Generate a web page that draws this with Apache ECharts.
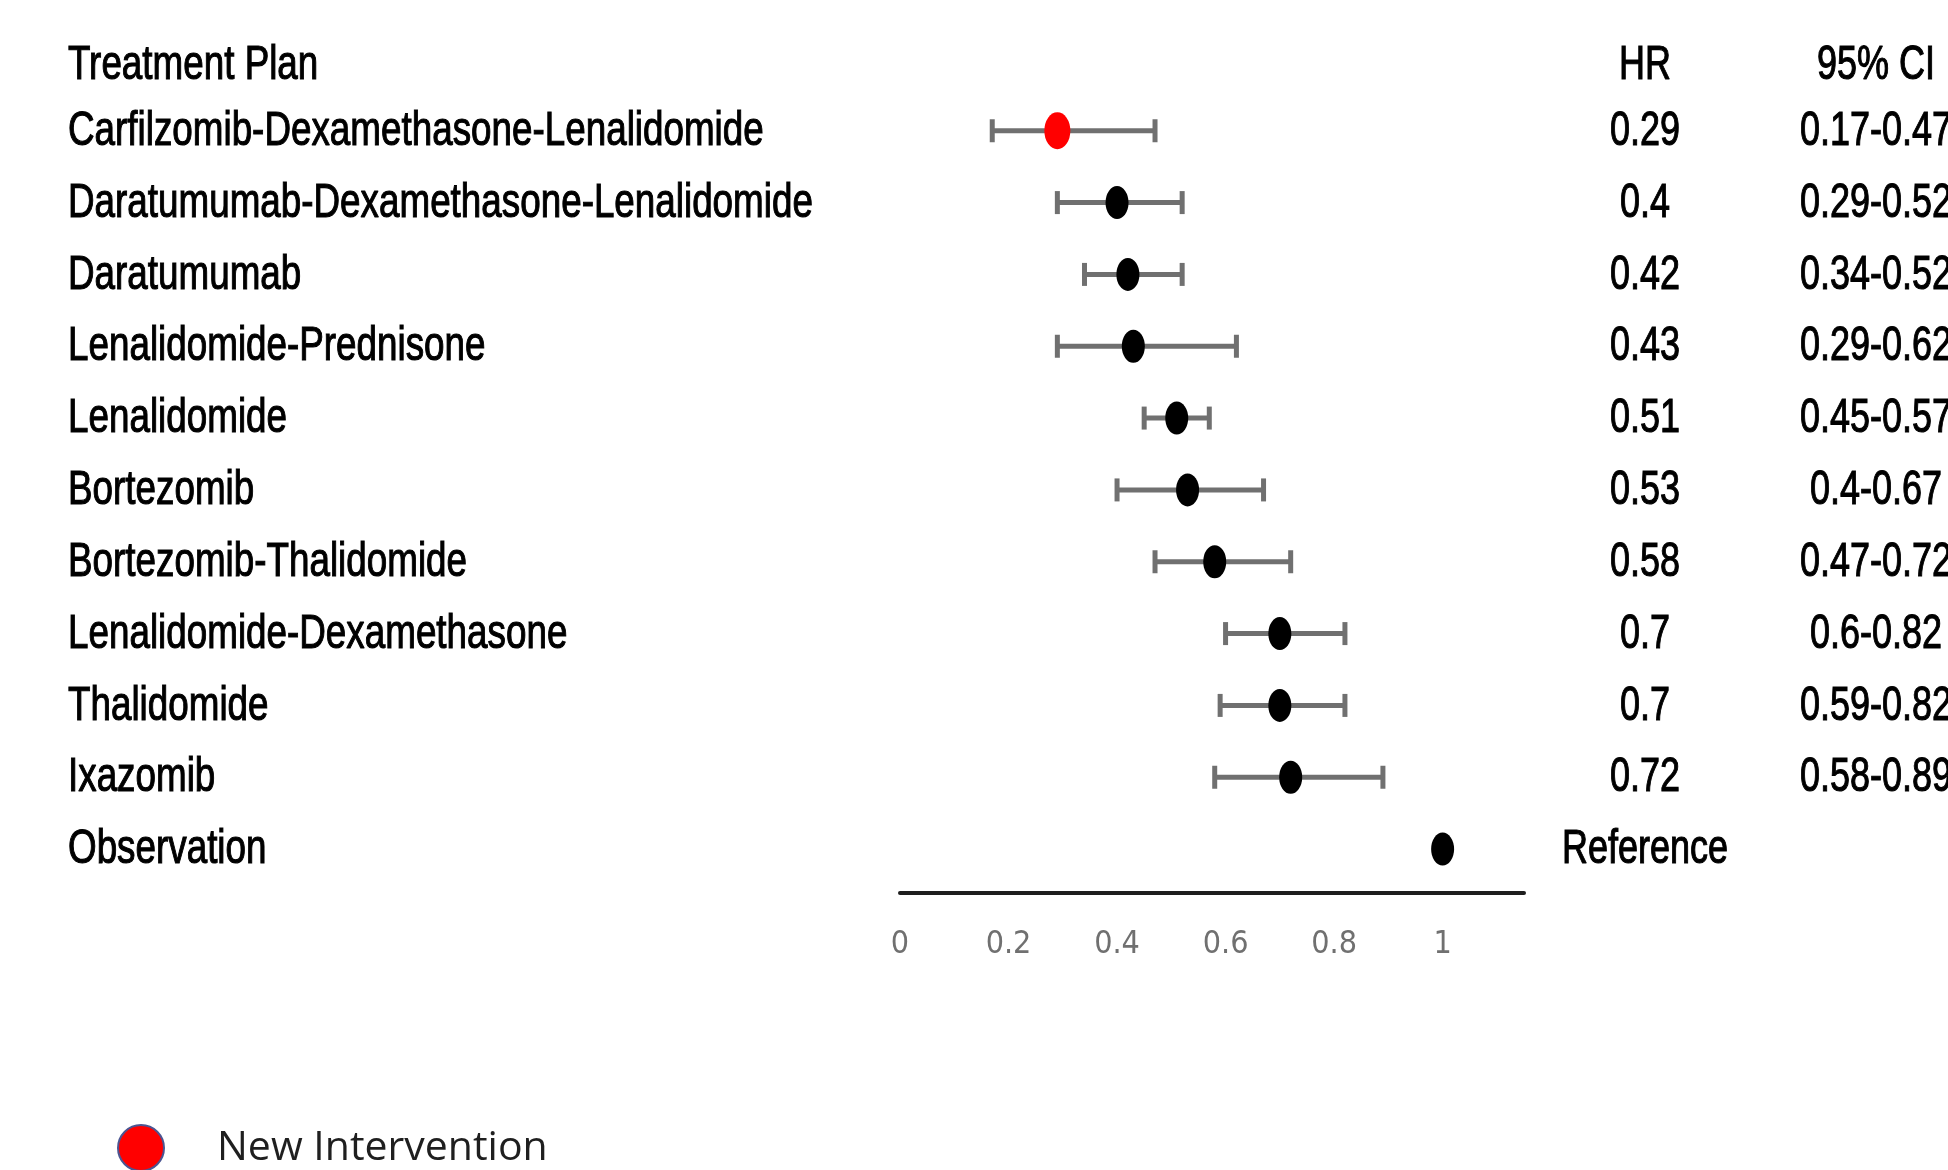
<!DOCTYPE html>
<html><head><meta charset="utf-8">
<script src="https://cdn.jsdelivr.net/npm/echarts@6/dist/echarts.min.js"></script>
<style>html,body{margin:0;padding:0;background:#fff}#c{width:1948px;height:1170px}</style>
</head><body><div id="c"></div>
<script>
// ---- data ----
const headers = ['Treatment Plan', 'HR', '95% CI'];
const treatments = [
  'Carfilzomib-Dexamethasone-Lenalidomide',
  'Daratumumab-Dexamethasone-Lenalidomide',
  'Daratumumab',
  'Lenalidomide-Prednisone',
  'Lenalidomide',
  'Bortezomib',
  'Bortezomib-Thalidomide',
  'Lenalidomide-Dexamethasone',
  'Thalidomide',
  'Ixazomib',
  'Observation'
];
const hr = [0.29, 0.4, 0.42, 0.43, 0.51, 0.53, 0.58, 0.7, 0.7, 0.72, 1];
const ciLow = [0.17, 0.29, 0.34, 0.29, 0.45, 0.4, 0.47, 0.6, 0.59, 0.58, null];
const ciHigh = [0.47, 0.52, 0.52, 0.62, 0.57, 0.67, 0.72, 0.82, 0.82, 0.89, null];
const referenceRow = 'Observation';
const newIntervention = ['Carfilzomib-Dexamethasone-Lenalidomide'];
const xTicks = { min: 0, max: 1.15, interval: 0.2 };

// ---- derived ----
const hrLabels = treatments.map((t, i) => t === referenceRow ? 'Reference' : String(hr[i]));
const ciLabels = treatments.map((t, i) => ciLow[i] == null ? '' : ciLow[i] + '-' + ciHigh[i]);
const rows = [headers[0]].concat(treatments);
const tableData = rows.map((r, i) => [0, r, i]);

const ciData = [];
treatments.forEach((t, i) => { if (ciLow[i] != null) ciData.push([ciLow[i], ciHigh[i], t]); });
const newData = [], otherData = [];
treatments.forEach((t, i) => {
  (newIntervention.includes(t) ? newData : otherData).push([hr[i], t]);
});

const ELLIPSE = 'path://M50 0A50 50 0 1 1 50 100A50 50 0 1 1 50 0Z';

const chart = echarts.init(document.getElementById('c'), null, { renderer: 'canvas' });
chart.setOption({
  animation: false,
  backgroundColor: '#fff',
  grid: { left: 900, right: 424, top: 23, height: 862, containLabel: false, outerBoundsMode: 'none' },
  xAxis: {
    type: 'value', min: xTicks.min, max: xTicks.max, interval: xTicks.interval,
    offset: 8,
    axisLine: { show: true, lineStyle: { color: '#1e1e1e', width: 4 } },
    axisTick: { show: false },
    splitLine: { show: false },
    axisLabel: {
      showMaxLabel: false, margin: 36,
      fontFamily: "'DejaVu Sans Condensed', sans-serif", fontSize: 32, color: '#707070', lineHeight: 32
    }
  },
  yAxis: {
    type: 'category', data: rows, inverse: true,
    axisLine: { show: false }, axisTick: { show: false }, splitLine: { show: false },
    axisLabel: { show: false }
  },
  legend: {
    left: 117, top: 1124, padding: 0, selectedMode: false,
    itemWidth: 46, itemHeight: 46,
    data: [{ name: 'New Intervention', icon: 'circle' }],
    itemStyle: { borderColor: '#4b5592', borderWidth: 2 },
    textStyle: { fontFamily: "'Open Sans', sans-serif", fontSize: 41, color: '#1f1f1f', padding: [0, 0, 0, 48] }
  },
  series: [
    {
      name: 'table', type: 'custom', clip: false, silent: true, z: 1,
      encode: { x: 0, y: 1 },
      data: tableData,
      renderItem: function (params, api) {
        const i = api.value(2);
        const y = api.coord([0, api.value(1)])[1] + (i === 0 ? 7 : 1);
        const cs = params.coordSys;
        const cols = [
          { x: cs.x - 832, align: 'left', sx: 0.767, text: i === 0 ? headers[0] : treatments[i - 1] },
          { x: cs.x + cs.width + 121, align: 'center', sx: 0.75, text: i === 0 ? headers[1] : hrLabels[i - 1] },
          { x: cs.x + cs.width + 352, align: 'center', sx: 0.75, text: i === 0 ? headers[2] : ciLabels[i - 1] }
        ];
        return {
          type: 'group',
          children: cols.map(c => ({
            type: 'text', x: c.x, y: y, scaleX: c.sx,
            style: {
              text: c.text, fontFamily: "'Liberation Sans', Arial, sans-serif", fontSize: 48,
              fill: '#000', stroke: '#000', lineWidth: 1.1,
              align: c.align, verticalAlign: 'middle'
            }
          }))
        };
      }
    },
    {
      name: '95% CI', type: 'custom', z: 2,
      encode: { x: [0, 1], y: 2 },
      data: ciData,
      renderItem: function (params, api) {
        const y = api.value(2);
        const p1 = api.coord([api.value(0), y]);
        const p2 = api.coord([api.value(1), y]);
        const h = 23;
        const style = { stroke: '#707070', lineWidth: 5 };
        return {
          type: 'group', children: [
            { type: 'line', shape: { x1: p1[0], y1: p1[1], x2: p2[0], y2: p2[1] }, style: style },
            { type: 'line', shape: { x1: p1[0], y1: p1[1] - h / 2, x2: p1[0], y2: p1[1] + h / 2 }, style: style },
            { type: 'line', shape: { x1: p2[0], y1: p2[1] - h / 2, x2: p2[0], y2: p2[1] + h / 2 }, style: style }
          ]
        };
      }
    },
    {
      name: 'Comparator', type: 'scatter', z: 5,
      symbol: ELLIPSE, symbolSize: [23, 33],
      itemStyle: { color: '#000', opacity: 1 },
      data: otherData
    },
    {
      name: 'New Intervention', type: 'scatter', z: 6,
      symbol: ELLIPSE, symbolSize: [26, 37],
      itemStyle: { color: '#ff0000', opacity: 1 },
      data: newData
    }
  ]
});
</script>
</body></html>
